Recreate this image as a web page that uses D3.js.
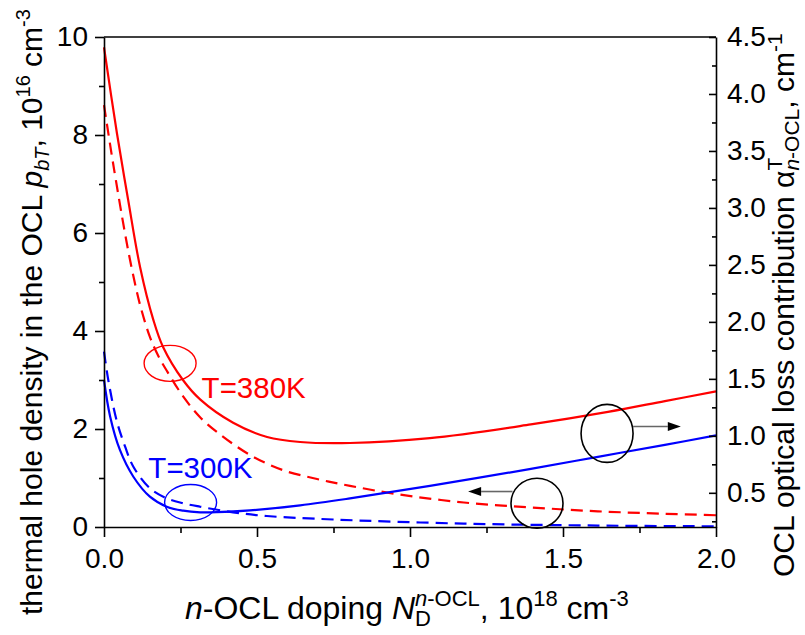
<!DOCTYPE html>
<html>
<head>
<meta charset="utf-8">
<script src="https://cdn.jsdelivr.net/npm/d3@7"></script>
<style>
  html, body { margin: 0; padding: 0; background: #fff; }
  svg { display: block; }
  text { font-family: "Liberation Sans", Arial, sans-serif; fill: #000; }
</style>
</head>
<body>
<svg id="chart" width="805" height="635"></svg>
<script>
// n-OCL donor concentration, 10^18 cm^-3
const xRed380 = [0, 0.042, 0.079, 0.118, 0.161, 0.193, 0.258, 0.314, 0.422, 0.533, 0.641, 0.804, 1.065, 1.395, 1.647, 1.833, 2.0];
// optical loss contribution at T=380K, cm^-1 (right axis)
const lossRed380 = [4.41, 3.66, 3.07, 2.48, 2.02, 1.78, 1.49, 1.32, 1.115, 0.99, 0.946, 0.937, 0.98, 1.10, 1.21, 1.305, 1.39];

const xRedDash = [0, 0.029, 0.069, 0.092, 0.118, 0.15, 0.176, 0.206, 0.258, 0.314, 0.369, 0.477, 0.585, 0.696, 0.804, 0.958, 1.176, 1.395, 1.614, 1.833, 2.0];
// thermal hole density at T=380K, 10^16 cm^-3 (left axis)
const holesRed380 = [8.61, 7.45, 5.98, 5.24, 4.53, 3.88, 3.51, 3.18, 2.67, 2.24, 1.94, 1.47, 1.16, 0.98, 0.84, 0.67, 0.50, 0.40, 0.32, 0.27, 0.24];

const xBlue300 = [0, 0.02, 0.052, 0.096, 0.15, 0.205, 0.259, 0.314, 0.369, 0.477, 0.641, 0.804, 1.065, 1.395, 1.614, 1.833, 2.0];
// optical loss contribution at T=300K, cm^-1 (right axis)
const lossBlue300 = [1.49, 1.17, 0.876, 0.641, 0.466, 0.378, 0.343, 0.329, 0.330, 0.346, 0.390, 0.451, 0.561, 0.710, 0.816, 0.921, 1.004];

const xBlueDash = [0, 0.014, 0.041, 0.069, 0.096, 0.15, 0.205, 0.259, 0.314, 0.422, 0.532, 0.749, 1.176, 1.614, 2.0];
// thermal hole density at T=300K, 10^16 cm^-3 (left axis)
const holesBlue300 = [3.58, 3.0, 2.18, 1.64, 1.23, 0.79, 0.586, 0.484, 0.414, 0.30, 0.224, 0.153, 0.069, 0.029, 0.014];

const xTickValues = [0, 0.5, 1.0, 1.5, 2.0];
const xMinorValues = [0.25, 0.75, 1.25, 1.75];
const leftTickValues = [0, 2, 4, 6, 8, 10];
const leftMinorValues = [1, 3, 5, 7, 9];
const rightTickValues = [0.5, 1.0, 1.5, 2.0, 2.5, 3.0, 3.5, 4.0, 4.5];
const rightMinorValues = [0.25, 0.75, 1.25, 1.75, 2.25, 2.75, 3.25, 3.75, 4.25];

// ---- layout ----
const plot = { left: 104, right: 716, top: 37, bottom: 527 };
const svg = d3.select('#chart');

const x = d3.scaleLinear().domain([0, 2]).range([plot.left, plot.right]);
const yL = d3.scaleLinear().domain([0, 10]).range([plot.bottom, plot.top]);
const yR = d3.scaleLinear().domain([0.2, 4.5]).range([plot.bottom, plot.top]);

const FS = 28;     // tick labels
const AXW = 1.6;   // axis stroke

// ---- curves ----
function drawCurve(xs, ys, yScale, color, dashed) {
  const pts = xs.map((d, i) => [d, ys[i]]);
  const line = d3.line()
    .x(d => x(d[0]))
    .y(d => yScale(d[1]))
    .curve(d3.curveCatmullRom.alpha(0.5));
  svg.append('path')
    .attr('d', line(pts))
    .attr('fill', 'none')
    .attr('stroke', color)
    .attr('stroke-width', 2.2)
    .attr('stroke-dasharray', dashed ? '12,7' : null);
}
drawCurve(xRedDash, holesRed380, yL, '#ff0000', true);
drawCurve(xBlueDash, holesBlue300, yL, '#0000ff', true);
drawCurve(xRed380, lossRed380, yR, '#ff0000', false);
drawCurve(xBlue300, lossBlue300, yR, '#0000ff', false);

// ---- axes ----
function styleAxis(g) {
  g.selectAll('path,line').attr('stroke', '#000').attr('stroke-width', AXW);
  g.selectAll('text').attr('font-size', FS).attr('font-family', '"Liberation Sans", Arial, sans-serif').attr('fill', '#000');
}

// bottom
svg.append('g').attr('transform', `translate(0,${plot.bottom})`)
  .call(d3.axisBottom(x).tickValues(xMinorValues).tickSize(6).tickFormat(''))
  .call(g => g.select('.domain').remove())
  .call(styleAxis);
svg.append('g').attr('transform', `translate(0,${plot.bottom})`)
  .call(d3.axisBottom(x).tickValues(xTickValues).tickSizeInner(10).tickSizeOuter(0).tickPadding(11).tickFormat(d3.format('.1f')))
  .call(styleAxis);

// left
svg.append('g').attr('transform', `translate(${plot.left},0)`)
  .call(d3.axisLeft(yL).tickValues(leftMinorValues).tickSize(5).tickFormat(''))
  .call(g => g.select('.domain').remove())
  .call(styleAxis);
svg.append('g').attr('transform', `translate(${plot.left},0)`)
  .call(d3.axisLeft(yL).tickValues(leftTickValues).tickSizeInner(9).tickSizeOuter(0).tickPadding(7).tickFormat(d3.format('d')))
  .call(styleAxis);

// right (ticks point into the plot)
svg.append('g').attr('transform', `translate(${plot.right},0)`)
  .call(d3.axisRight(yR).tickValues(rightMinorValues).tickSizeInner(-4).tickSizeOuter(0).tickFormat(''))
  .call(g => g.select('.domain').remove())
  .call(styleAxis);
svg.append('g').attr('transform', `translate(${plot.right},0)`)
  .call(d3.axisRight(yR).tickValues(rightTickValues).tickSizeInner(-7).tickSizeOuter(0).tickPadding(11).tickFormat(d3.format('.1f')))
  .call(styleAxis);

// top frame
svg.append('line')
  .attr('x1', plot.left).attr('x2', plot.right)
  .attr('y1', plot.top).attr('y2', plot.top)
  .attr('stroke', '#000').attr('stroke-width', AXW);

// ---- rich-text titles ----
// parts: {t, it, small, shift, stackOn} ; shift is offset from the main baseline,
// stackOn = index of an earlier part to back up over (stacked sub/superscript)
function rich(textSel, parts, small) {
  let cur = 0;
  const nodes = [];
  parts.forEach(p => {
    const ts = textSel.append('tspan').text(p.t);
    const target = p.shift || 0;
    if (target !== cur) ts.attr('dy', target - cur);
    cur = target;
    if (p.it) ts.attr('font-style', 'italic');
    if (p.small) ts.attr('font-size', small);
    if (p.stackOn !== undefined) ts.attr('dx', -nodes[p.stackOn].getComputedTextLength());
    nodes.push(ts.node());
  });
}

// x title
const XF = 32, XS = 22;
const xt = svg.append('text').attr('x', 185).attr('y', 619).attr('font-size', XF);
rich(xt, [
  { t: 'n', it: true }, { t: '-OCL doping ' }, { t: 'N', it: true },
  { t: 'D', small: true, shift: 7 },
  { t: 'n', it: true, small: true, shift: -13, stackOn: 3 },
  { t: '-OCL', small: true, shift: -13 },
  { t: ', 10' }, { t: '18', small: true, shift: -13 },
  { t: ' cm' }, { t: '-3', small: true, shift: -13 }
], XS);

// left title
const LF = 30, LS = 20;
const lt = svg.append('text').attr('transform', 'translate(42,615) rotate(-90)').attr('font-size', LF);
rich(lt, [
  { t: 'thermal hole density in the OCL ' }, { t: 'p', it: true },
  { t: 'bT', it: true, small: true, shift: 7 },
  { t: ', 10' }, { t: '16', small: true, shift: -12 },
  { t: ' cm' }, { t: '-3', small: true, shift: -12 }
], LS);

// right title
const RF = 30, RS = 21;
const rt = svg.append('text').attr('transform', 'translate(794,577) rotate(-90)').attr('font-size', RF);
rich(rt, [
  { t: 'OCL optical loss contribution \u03b1' },
  { t: 'T', small: true, shift: -12 },
  { t: 'n', it: true, small: true, shift: 5, stackOn: 1 },
  { t: '-OCL', small: true, shift: 5 },
  { t: ', cm' }, { t: '-1', small: true, shift: -12 }
], RS);

// ---- annotations ----
const curveLabels = [
  { text: 'T=380K', x: 0.319, y: 2.64, color: '#ff0000' },
  { text: 'T=300K', x: 0.145, y: 0.99, color: '#0000ff' }
];
curveLabels.forEach(l => {
  svg.append('text').attr('x', x(l.x)).attr('y', yL(l.y))
    .attr('font-size', 29.5).style('fill', l.color).text(l.text);
});

const rings = [
  { x: 0.216, y: 3.34, rx: 26, ry: 18, color: '#ff0000', w: 1.4 },
  { x: 0.283, y: 0.50, rx: 26, ry: 18, color: '#0000ff', w: 1.4 },
  { x: 1.644, y: 1.91, rx: 26, ry: 29, color: '#000', w: 1.6 },
  { x: 1.415, y: 0.486, rx: 26, ry: 25, color: '#000', w: 1.6 }
];
rings.forEach(r => {
  svg.append('ellipse').attr('cx', x(r.x)).attr('cy', yL(r.y))
    .attr('rx', r.rx).attr('ry', r.ry)
    .attr('fill', 'none').attr('stroke', r.color).attr('stroke-width', r.w);
});

const pointers = [
  { x0: 1.729, x1: 1.885, y: 2.05 },
  { x0: 1.335, x1: 1.19, y: 0.724 }
];
pointers.forEach(a => {
  const px0 = x(a.x0), px1 = x(a.x1), py = yL(a.y);
  const dir = Math.sign(px1 - px0);
  const headLen = 13, headHalf = 4.5;
  svg.append('line')
    .attr('x1', px0).attr('x2', px1 - dir * headLen)
    .attr('y1', py).attr('y2', py)
    .attr('stroke', '#666').attr('stroke-width', 1.6);
  svg.append('path')
    .attr('d', `M${px1},${py} L${px1 - dir * headLen},${py - headHalf} L${px1 - dir * headLen},${py + headHalf} Z`)
    .attr('fill', '#000');
});
</script>
</body>
</html>
